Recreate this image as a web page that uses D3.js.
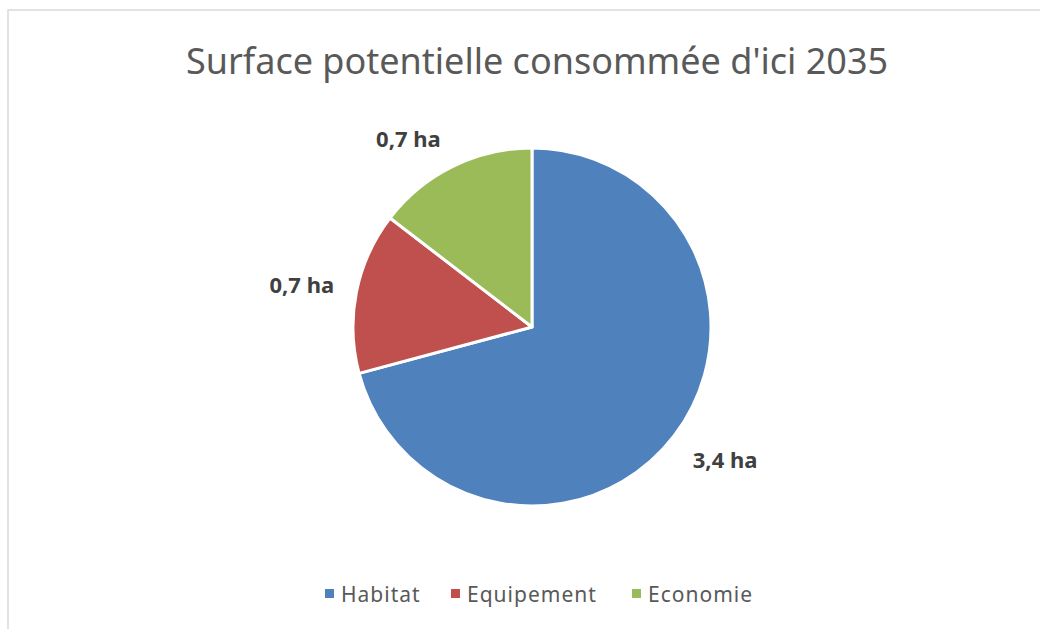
<!DOCTYPE html>
<html lang="fr">
<head>
<meta charset="UTF-8">
<script src="https://d3js.org/d3.v7.min.js"></script>
<style>
  html, body { margin: 0; padding: 0; background: #fff; }
  body { font-family: "Noto Sans", "Open Sans", sans-serif; }
  svg { display: block; }
</style>
</head>
<body>
<div id="chart"></div>
<script>
// données
const categories = ["Habitat", "Equipement", "Economie"];
const values = [3.4, 0.7, 0.7];
const labels = ["3,4 ha", "0,7 ha", "0,7 ha"];
const colors = ["#4F81BD", "#C0504D", "#9BBB59"];
const title = "Surface potentielle consommée d'ici 2035";

const W = 1040, H = 629;
const cx = 532, cy = 327, radius = 179;

const svg = d3.select("#chart").append("svg")
    .attr("width", W).attr("height", H);

svg.append("rect").attr("width", W).attr("height", H).attr("fill", "#fff");

// cadre (seulement haut et gauche visibles)
svg.append("path")
    .attr("d", `M8,${H} L8,10 L${W},10`)
    .attr("fill", "none")
    .attr("stroke", "#d9d9d9")
    .attr("stroke-width", 1.5);

// titre
svg.append("text")
    .attr("x", 537).attr("y", 74)
    .attr("text-anchor", "middle")
    .attr("font-size", 36)
    .attr("fill", "#595959")
    .text(title);

const data = categories.map((c, i) => ({ cat: c, value: values[i], label: labels[i], color: colors[i] }));

const pie = d3.pie().sort(null).value(d => d.value);
const arc = d3.arc().innerRadius(0).outerRadius(radius);
const labelArc = d3.arc().innerRadius(198).outerRadius(198);

const g = svg.append("g").attr("transform", `translate(${cx},${cy})`);
const arcs = pie(data);

g.selectAll("path.slice")
    .data(arcs)
    .enter().append("path")
    .attr("class", "slice")
    .attr("d", arc)
    .attr("fill", d => d.data.color)
    .attr("stroke", "#fff")
    .attr("stroke-width", 3)
    .attr("stroke-linejoin", "round");

// étiquettes à l'extérieur
const halfW = 36, halfH = 11;
g.selectAll("text.lbl")
    .data(arcs)
    .enter().append("text")
    .attr("class", "lbl")
    .attr("text-anchor", "middle")
    .attr("dominant-baseline", "central")
    .attr("font-size", 22)
    .attr("font-weight", "bold")
    .attr("fill", "#404040")
    .attr("transform", d => {
        const [px, py] = labelArc.centroid(d);
        const a = (d.startAngle + d.endAngle) / 2;
        const sx = Math.max(-1, Math.min(1, Math.sin(a) * 3));
        const sy = Math.max(-1, Math.min(1, -Math.cos(a) * 2));
        return `translate(${px + sx * halfW},${py + sy * halfH})`;
    })
    .text(d => d.data.label);

// légende
const legendX = [325, 451, 632];
const legend = svg.append("g");
const items = legend.selectAll("g")
    .data(data)
    .enter().append("g")
    .attr("transform", (d, i) => `translate(${legendX[i]},594)`);

items.append("rect")
    .attr("x", 0).attr("y", -5)
    .attr("width", 9).attr("height", 9)
    .attr("fill", d => d.color);

items.append("text")
    .attr("x", 16).attr("y", 0)
    .attr("dominant-baseline", "central")
    .attr("font-size", 21)
    .attr("letter-spacing", 1)
    .attr("fill", "#595959")
    .text(d => d.cat);
</script>
</body>
</html>
